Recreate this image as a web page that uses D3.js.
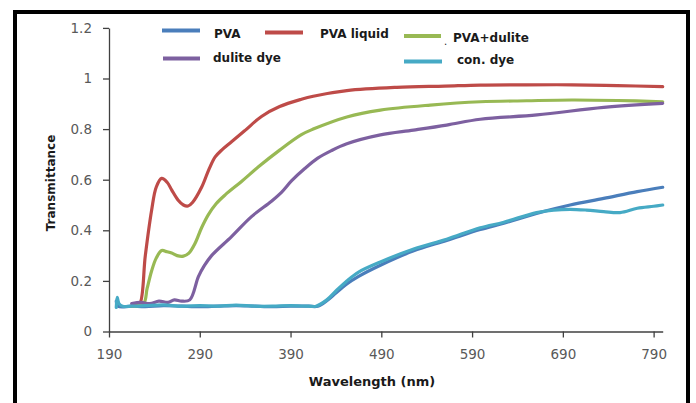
<!DOCTYPE html>
<html>
<head>
<meta charset="utf-8">
<script src="https://cdn.jsdelivr.net/npm/d3@7/dist/d3.min.js"></script>
<style>
html,body{margin:0;padding:0;background:#fff;}
svg{display:block;}
</style>
</head>
<body>
<svg id="chart" width="696" height="403"></svg>
<script>
// ---- data ----
const seriesNames = ["PVA", "PVA liquid", "PVA+dulite", "dulite dye", "con. dye"];
const seriesColors = ["#4a7ebb", "#be4b48", "#98b954", "#7d60a0", "#46aac5"];

const pvaWl = [198, 200, 215, 230, 250, 270, 290, 310, 330, 350, 370, 390, 410, 420, 430, 440, 452, 465, 489, 525, 562, 599, 625, 661, 698, 735, 772, 800];
const pvaT  = [0.12, 0.10, 0.10, 0.098, 0.102, 0.10, 0.098, 0.10, 0.102, 0.10, 0.098, 0.10, 0.10, 0.10, 0.122, 0.152, 0.188, 0.218, 0.262, 0.318, 0.36, 0.403, 0.428, 0.467, 0.50, 0.526, 0.553, 0.57];

const liquidWl = [215, 220, 224, 230, 237, 242, 248, 254, 259, 266, 272, 277, 282, 292, 300, 307, 315, 325, 340, 358, 378, 402, 415, 452, 507, 560, 599, 650, 700, 750, 800];
const liquidT  = [0.10, 0.105, 0.11, 0.30, 0.48, 0.57, 0.605, 0.59, 0.56, 0.52, 0.50, 0.496, 0.51, 0.57, 0.64, 0.69, 0.72, 0.75, 0.795, 0.85, 0.889, 0.918, 0.93, 0.952, 0.965, 0.97, 0.974, 0.975, 0.975, 0.972, 0.968];

const pvaDuliteWl = [215, 228, 232, 237, 242, 248, 254, 259, 265, 272, 278, 285, 292, 299.5, 308, 318, 336, 355, 378, 402, 415, 452, 489, 544, 599, 650, 700, 750, 800];
const pvaDuliteT  = [0.10, 0.11, 0.17, 0.24, 0.29, 0.32, 0.315, 0.31, 0.30, 0.298, 0.31, 0.35, 0.41, 0.462, 0.505, 0.54, 0.593, 0.652, 0.717, 0.778, 0.80, 0.848, 0.875, 0.895, 0.908, 0.912, 0.915, 0.913, 0.908];

const duliteWl = [215, 225, 235, 245, 255, 262, 270, 279, 288.5, 295, 303, 325, 347, 369, 380, 391, 406, 420, 435, 452, 489, 525.5, 562, 599, 661.5, 735, 800];
const duliteT  = [0.11, 0.115, 0.11, 0.12, 0.115, 0.125, 0.12, 0.125, 0.217, 0.26, 0.30, 0.375, 0.454, 0.515, 0.55, 0.595, 0.645, 0.685, 0.715, 0.742, 0.777, 0.796, 0.816, 0.839, 0.856, 0.886, 0.902];

const conWl = [198, 199, 201, 205, 215, 230, 250, 270, 290, 310, 330, 350, 370, 390, 410, 418, 430, 440, 452, 465, 489, 525, 562, 599, 625, 661, 680, 698, 716, 735, 753, 772, 790, 800];
const conT  = [0.095, 0.135, 0.11, 0.10, 0.10, 0.102, 0.105, 0.10, 0.102, 0.10, 0.104, 0.10, 0.10, 0.102, 0.10, 0.10, 0.125, 0.16, 0.20, 0.235, 0.275, 0.325, 0.365, 0.41, 0.432, 0.47, 0.48, 0.483, 0.48, 0.474, 0.47, 0.487, 0.495, 0.50];

const xTicks = [190, 290, 390, 490, 590, 690, 790];
const yTicks = [0, 0.2, 0.4, 0.6, 0.8, 1, 1.2];
const xTitle = "Wavelength (nm)";
const yTitle = "Transmittance";

// ---- build ----
const series = [
  {name: seriesNames[0], color: seriesColors[0], wl: pvaWl, t: pvaT},
  {name: seriesNames[1], color: seriesColors[1], wl: liquidWl, t: liquidT},
  {name: seriesNames[2], color: seriesColors[2], wl: pvaDuliteWl, t: pvaDuliteT},
  {name: seriesNames[3], color: seriesColors[3], wl: duliteWl, t: duliteT},
  {name: seriesNames[4], color: seriesColors[4], wl: conWl, t: conT}
];

const svg = d3.select("#chart");
const x = d3.scaleLinear().domain([190, 800]).range([109, 662.7]);
const y = d3.scaleLinear().domain([0, 1.2]).range([331.5, 27.9]);

// border
svg.append("rect").attr("x", 15).attr("y", 12).attr("width", 673).attr("height", 500)
  .attr("fill", "#fff").attr("stroke", "#000").attr("stroke-width", 4);

// axes
const axisColor = "#404040";
const gx = svg.append("g").attr("transform", `translate(0,${y(0)})`)
  .call(d3.axisBottom(x).tickValues(xTicks).tickSize(6).tickSizeOuter(0).tickPadding(12).tickFormat(d => String(d)));
const gy = svg.append("g").attr("transform", `translate(${x(190)},0)`)
  .call(d3.axisLeft(y).tickValues(yTicks).tickSize(6).tickSizeOuter(0).tickPadding(11).tickFormat(d => String(d)));
[gx, gy].forEach(g => {
  g.select(".domain").attr("stroke", axisColor).attr("stroke-width", 1.3);
  g.selectAll(".tick line").attr("stroke", axisColor).attr("stroke-width", 1.3);
  g.selectAll(".tick text").attr("fill", "#595959").style("font-family", "DejaVu Sans").style("font-size", "13.5px");
});

// lines
const line = d3.line().x(d => x(d[0])).y(d => y(d[1])).curve(d3.curveCatmullRom.alpha(0.5));
series.forEach(s => {
  const pts = s.wl.map((w, i) => [w, s.t[i]]);
  svg.append("path").datum(pts).attr("d", line)
    .attr("fill", "none").attr("stroke", s.color).attr("stroke-width", 3.2)
    .attr("stroke-linejoin", "round").attr("stroke-linecap", "round");
});

// titles
svg.append("text").attr("x", 372).attr("y", 386).attr("text-anchor", "middle")
  .style("font-family", "DejaVu Sans").style("font-weight", "bold").style("font-size", "13px")
  .attr("fill", "#1a1a1a").text(xTitle);
svg.append("text").attr("transform", "translate(55,183) rotate(-90)").attr("text-anchor", "middle")
  .style("font-family", "DejaVu Sans").style("font-weight", "bold").style("font-size", "12px")
  .attr("fill", "#1a1a1a").text(yTitle);

// legend
const legendPos = [
  {x1: 162, x2: 200, ly: 30.5, tx: 214, ty: 37.5},
  {x1: 265, x2: 303, ly: 32.5, tx: 320, ty: 37.5},
  {x1: 404, x2: 441, ly: 36, tx: 453, ty: 41.5},
  {x1: 163, x2: 200, ly: 58.5, tx: 213, ty: 61.5},
  {x1: 404, x2: 442, ly: 61.5, tx: 457, ty: 63.5}
];
const lg = svg.append("g");
series.forEach((s, i) => {
  const p = legendPos[i];
  lg.append("line").attr("x1", p.x1).attr("x2", p.x2).attr("y1", p.ly).attr("y2", p.ly)
    .attr("stroke", s.color).attr("stroke-width", 4);
  lg.append("text").attr("x", p.tx).attr("y", p.ty)
    .style("font-family", "DejaVu Sans").style("font-weight", "bold").style("font-size", "12px")
    .attr("fill", "#1a1a1a").text(s.name);
});
lg.append("text").attr("x", 444).attr("y", 45).style("font-family", "DejaVu Sans")
  .style("font-size", "10px").attr("fill", "#1a1a1a").text(".");
</script>
</body>
</html>
